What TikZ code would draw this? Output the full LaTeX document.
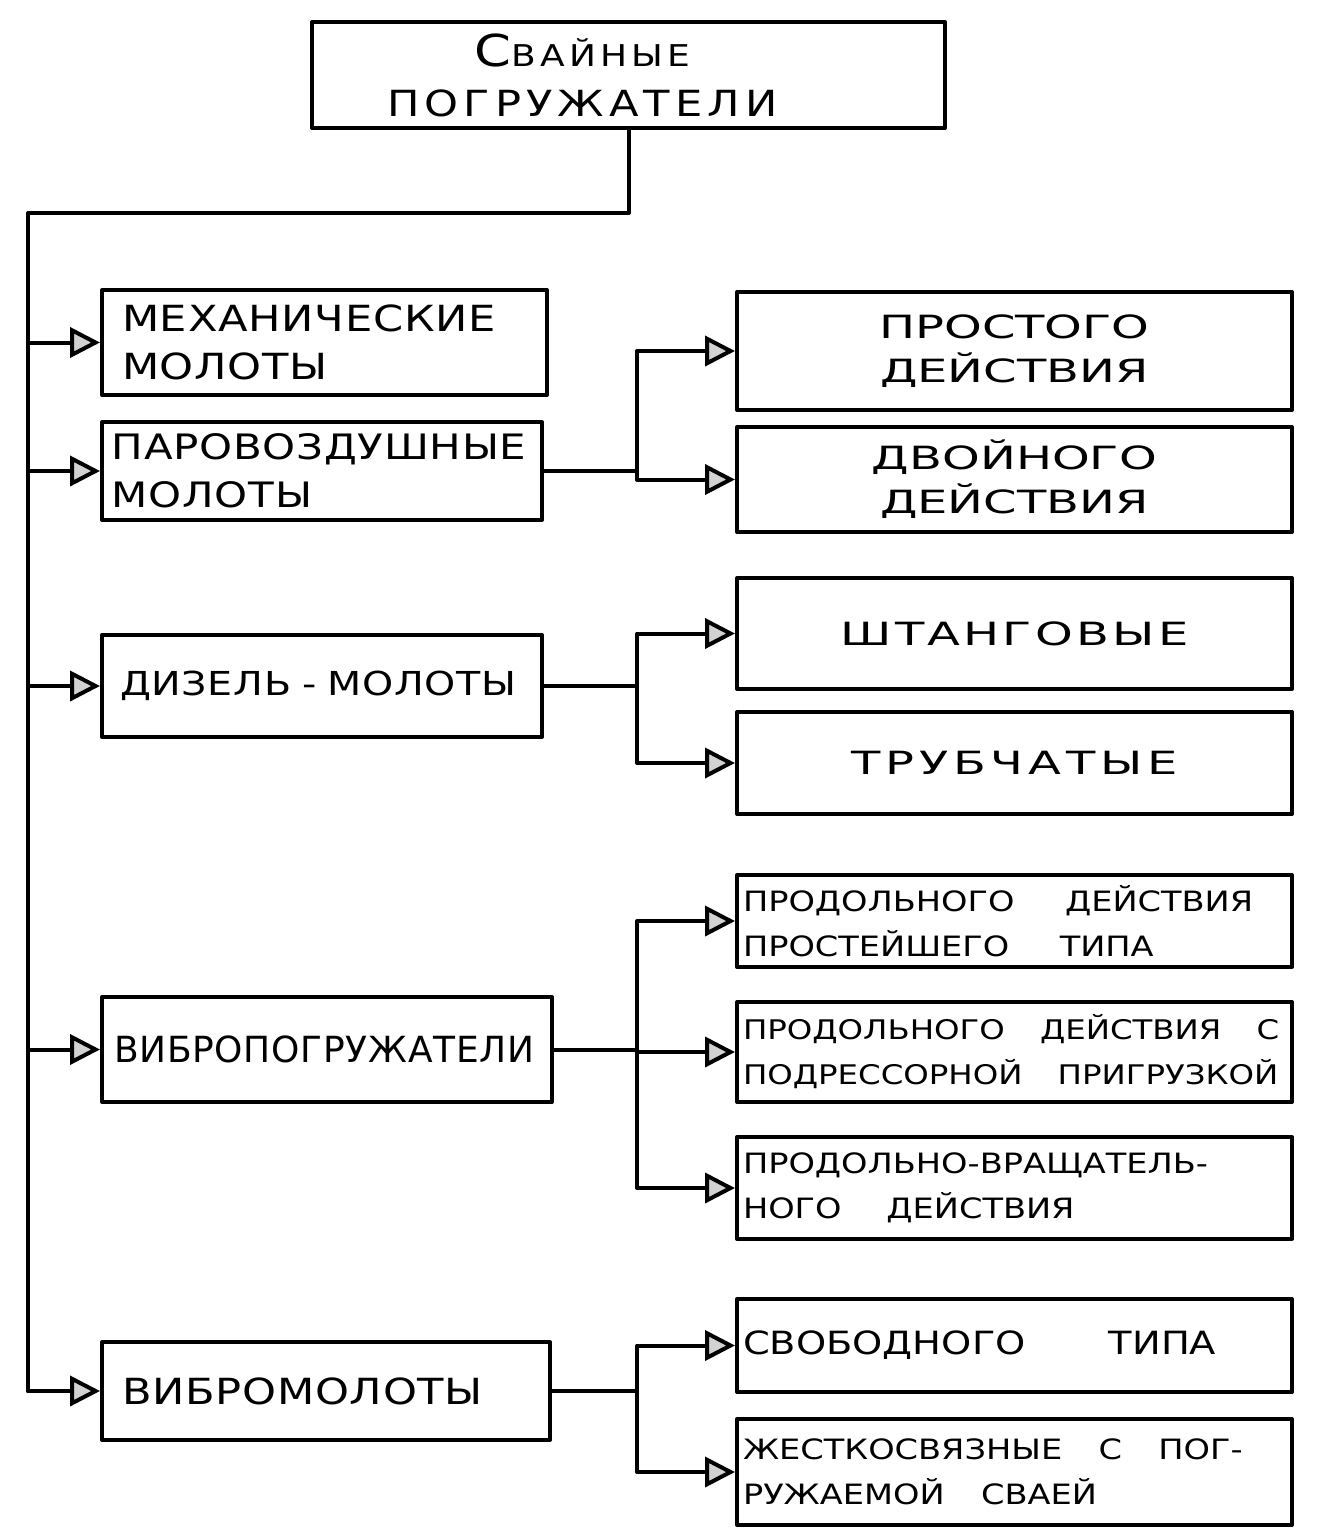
\documentclass[tikz,border=0pt]{standalone}
\usepackage{fontspec}
\newfontfamily\hand[FakeStretch=1.2]{DejaVu Sans}
\newfontfamily\handn{DejaVu Sans}
\newfontfamily\handx[FakeStretch=1.5]{DejaVu Sans}
\newcommand\pad{\hspace*{46pt}}
\usetikzlibrary{arrows.meta}

\begin{document}
\begin{tikzpicture}[x=0.5pt, y=-0.5pt, line cap=round, line join=round,
  box/.style={draw, line width=2pt, anchor=north west},
  lbox/.style={box, inner xsep=10pt, align=left,
    font=\hand\fontsize{18}{24}\selectfont\addfontfeature{LetterSpace=2}},
  rbox/.style={box, inner xsep=3pt, text width=271.5pt, align=center},
  rbig/.style={rbox, font=\handx\fontsize{16}{22}\selectfont\addfontfeature{LetterSpace=#1}},
  rsmall/.style={rbox, align=left, font=\hand\fontsize{14}{22.5}\selectfont,
    execute at begin node={\spaceskip=#1em\relax}},
  link/.style={line width=2pt},
  feed/.style={link, -{Triangle[length=15pt, width=15pt, fill=gray!35]}}]
  \useasboundingbox (0,0) rectangle (1325,1539);

  % Root box.
  \node[box, minimum width=316.5pt, minimum height=53pt, align=center,
    font=\hand\fontsize{18}{25}\selectfont\addfontfeature{LetterSpace=14}] (root) at (310,20)
    {{\fontsize{22}{25}\selectfont С}{\fontsize{15}{25}\selectfont ВАЙНЫЕ}\pad\\ПОГРУЖАТЕЛИ\pad};

  % Left column: kinds of pile drivers.
  \node[lbox, text width=202.5pt, minimum height=52.5pt] (mech) at (100,288) {МЕХАНИЧЕСКИЕ\\МОЛОТЫ};
  \node[lbox, inner xsep=5pt, text width=210pt, minimum height=49pt,
    font=\hand\fontsize{17.5}{24}\selectfont\addfontfeature{LetterSpace=2}] (paro) at (100,420) {ПАРОВОЗДУШНЫЕ\\МОЛОТЫ};
  \node[lbox, inner xsep=9pt, text width=202pt, minimum height=51pt,
    font=\hand\fontsize{16.5}{24}\selectfont\addfontfeature{LetterSpace=2}] (dies) at (100,633) {ДИЗЕЛЬ - МОЛОТЫ};
  \node[lbox, inner xsep=6pt, text width=213pt, minimum height=52.5pt,
    font=\handn\fontsize{18}{24}\selectfont\addfontfeature{LetterSpace=2}] (vpog) at (100,995) {ВИБРОПОГРУЖАТЕЛИ};
  \node[lbox, text width=204pt, minimum height=49pt] (vmol) at (100,1340) {ВИБРОМОЛОТЫ};

  % Right column: subtypes.
  \node[rbig=0, minimum height=59pt] (prost) at (735,290) {ПРОСТОГО\\ДЕЙСТВИЯ};
  \node[rbig=0, minimum height=52.5pt] (dvoin) at (735,425) {ДВОЙНОГО\\ДЕЙСТВИЯ};
  \node[rbig=10, minimum height=55.5pt] (shtang) at (735,576) {ШТАНГОВЫЕ};
  \node[rbig=15, minimum height=51pt] (trub) at (735,710) {ТРУБЧАТЫЕ};
  \node[rsmall=1.8, minimum height=46pt] (prod1) at (735,873) {ПРОДОЛЬНОГО ДЕЙСТВИЯ\\ПРОСТЕЙШЕГО ТИПА};
  \node[rsmall=1.3, minimum height=50pt, font=\hand\fontsize{13.5}{22.5}\selectfont] (prod2) at (735,1000) {ПРОДОЛЬНОГО ДЕЙСТВИЯ С\\ПОДРЕССОРНОЙ ПРИГРУЗКОЙ};
  \node[rsmall=1.6, minimum height=51pt] (prvr) at (735,1135) {ПРОДОЛЬНО-ВРАЩАТЕЛЬ-\\НОГО ДЕЙСТВИЯ};
  \node[rsmall=2.6, minimum height=46.5pt, font=\hand\fontsize{16}{22.5}\selectfont] (svob) at (735,1297) {СВОБОДНОГО ТИПА};
  \node[rsmall=1.3, minimum height=53pt] (zhest) at (735,1417) {ЖЕСТКОСВЯЗНЫЕ С ПОГ-\\РУЖАЕМОЙ СВАЕЙ};

  % Trunk from the root down the left side.
  \coordinate (split) at (28,213);
  \coordinate (fork) at (637,0);
  \draw[link] (root.south) |- (split) -- (split |- vmol.west);
  \foreach \n in {mech,paro,dies,vpog,vmol}
    \draw[feed] (split |- \n.west) -- (\n.west);

  % Forks to the subtypes.
  \draw[link] (paro.east) -- (fork |- paro.east);
  \foreach \n in {prost,dvoin}
    \draw[feed] (fork |- paro.east) |- (\n.west);
  \draw[link] (dies.east) -- (fork |- dies.east);
  \foreach \n in {shtang,trub}
    \draw[feed] (fork |- dies.east) |- (\n.west);
  \draw[link] (vpog.east) -- (fork |- vpog.east);
  \foreach \n in {prod1,prod2,prvr}
    \draw[feed] (fork |- vpog.east) |- (\n.west);
  \draw[link] (vmol.east) -- (fork |- vmol.east);
  \foreach \n in {svob,zhest}
    \draw[feed] (fork |- vmol.east) |- (\n.west);
\end{tikzpicture}
\end{document}
